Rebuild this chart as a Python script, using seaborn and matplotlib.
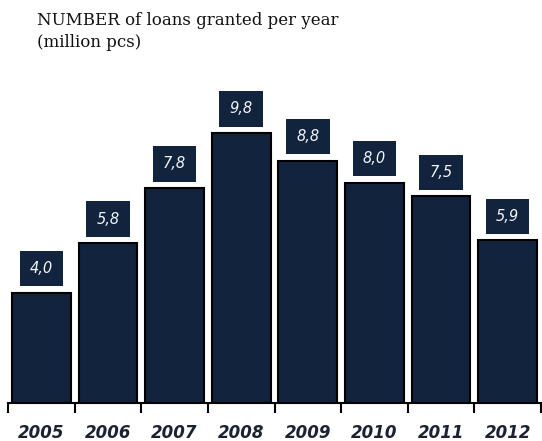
import matplotlib
matplotlib.use("Agg")
import matplotlib.pyplot as plt
import seaborn as sns
from matplotlib.ticker import FixedLocator

# data
years = ["2005", "2006", "2007", "2008", "2009", "2010", "2011", "2012"]
loans = [4.0, 5.8, 7.8, 9.8, 8.8, 8.0, 7.5, 5.9]
value_labels = [f"{v:.1f}".replace(".", ",") for v in loans]

BAR_COLOR = "#12233d"

sns.set_style("white")

fig = plt.figure(figsize=(5.42, 4.41), dpi=100)
ax = fig.add_axes([8 / 542, 38 / 441, 533 / 542, 303 / 441])

sns.barplot(
    x=years,
    y=loans,
    color=BAR_COLOR,
    saturation=1,
    edgecolor="black",
    linewidth=1.5,
    width=0.88,
    ax=ax,
)

ax.bar_label(
    ax.containers[0],
    labels=value_labels,
    padding=12,
    fontsize=10.5,
    style="italic",
    color="#f2f5fa",
    bbox=dict(boxstyle="square,pad=0.7", facecolor=BAR_COLOR, edgecolor="none"),
)

ax.set_xlim(-0.5, len(years) - 0.5)
ax.set_ylim(0, 11)
ax.set_xlabel("")
ax.set_ylabel("")
ax.set_yticks([])

for side in ["top", "right", "left"]:
    ax.spines[side].set_visible(False)
ax.spines["bottom"].set_color("black")
ax.spines["bottom"].set_linewidth(1.5)

# ticks between categories, labels centred under bars
ax.xaxis.set_minor_locator(FixedLocator([i - 0.5 for i in range(len(years) + 1)]))
ax.tick_params(axis="x", which="minor", direction="out", length=7, width=1.5,
               color="black", bottom=True)
ax.tick_params(axis="x", which="major", length=0, pad=15)
for lbl in ax.get_xticklabels():
    lbl.set_fontsize(12)
    lbl.set_fontweight("bold")
    lbl.set_fontstyle("italic")
    lbl.set_color("#1b2233")

fig.text(37 / 542, 1 - 12 / 441, "NUMBER of loans granted per year\n(million pcs)",
         fontsize=12, family="DejaVu Serif", color="#111111",
         va="top", ha="left", linespacing=1.4)

fig.savefig("out.png", dpi=100)
